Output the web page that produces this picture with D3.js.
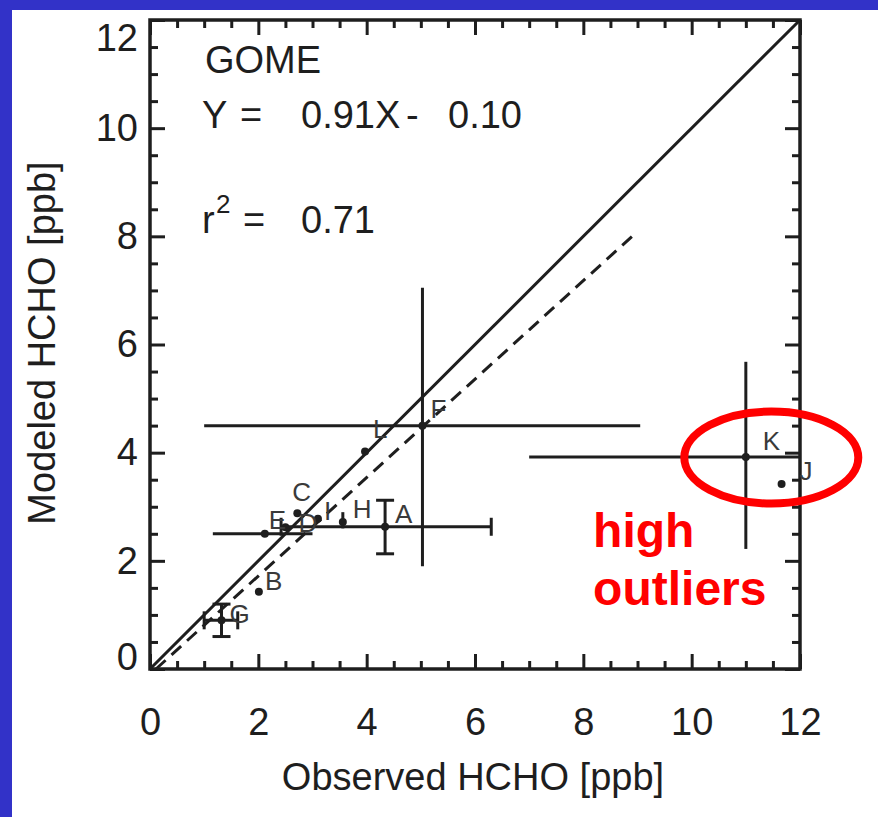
<!DOCTYPE html>
<html>
<head>
<meta charset="utf-8">
<script src="https://cdn.jsdelivr.net/npm/d3@7"></script>
<style>
  html, body { margin: 0; padding: 0; background: #3232c8; overflow: hidden; }
  svg { display: block; }
  text { font-family: "Liberation Sans", Arial, Helvetica, sans-serif; }
</style>
</head>
<body>
<div id="wrapper"></div>
<script>
// site labels and values (ppb)
const sites    = ["A", "B", "C", "D", "E", "F", "G", "H", "I", "J", "K", "L"];
const observed = [4.34, 2.01, 2.72, 2.50, 2.12, 5.03, 1.32, 3.56, 3.10, 11.66, 11.00, 3.97];
const modeled  = [2.63, 1.43, 2.88, 2.62, 2.50, 4.50, 0.90, 2.72, 2.78, 3.42, 3.92, 4.02];

// error bar ranges (null = none drawn)
const obsLow  = [2.42, null, null, null, 1.16, 1.00, 1.00, null, null, null, 7.00, null];
const obsHigh = [6.30, null, null, null, 3.00, 9.05, 1.62, null, null, null, 12.0, null];
const modLow  = [2.13, null, null, null, null, 1.90, 0.60, 2.60, null, null, 2.22, null];
const modHigh = [3.12, null, null, null, null, 7.05, 1.20, 2.90, null, null, 5.68, null];

const majorTicks = [0, 2, 4, 6, 8, 10, 12];
const minorTicks = d3.range(0.5, 12, 0.5).filter(v => v % 2 !== 0);

// regression line Y = 0.91X - 0.10, drawn over observed 0.11 .. 9
const fitSlope = 0.91, fitIntercept = -0.10;
const fitRange = [0.11, 9.0];

// label nudges in pixels (style only)
const nudge = {A: [10, -4], B: [6, -2], C: [-5, -12], D: [13, 5], E: [4, -5], F: [8, -8],
               G: [8, 3], H: [10, -4], I: [6, 1], J: [18, -4], K: [17, -7], L: [8, -14]};
const capped = new Set(["A", "G"]);

const W = 878, H = 817;
const ink = "#1e1e1e";

const svg = d3.select("#wrapper").append("svg")
  .attr("width", W).attr("height", H);

svg.append("rect").attr("width", W).attr("height", H).attr("fill", "#3232c8");
svg.append("rect").attr("x", 12).attr("y", 10).attr("width", W - 12).attr("height", H - 10).attr("fill", "#fff");

const x = d3.scaleLinear().domain([0, 12]).range([150, 800]);
const y = d3.scaleLinear().domain([0, 12]).range([669, 20]);

const x0 = x.range()[0], x1 = x.range()[1], y0 = y.range()[0], y1 = y.range()[1];

function styleAxis(g) {
  g.select(".domain").remove();
  g.selectAll("line").attr("stroke", ink).attr("stroke-width", 3);
  g.attr("font-size", 38).attr("font-family", '"Liberation Sans", Arial, sans-serif');
  g.selectAll("text").attr("fill", ink);
}

// major + minor ticks, all four sides, pointing inward
svg.append("g").attr("transform", `translate(0,${y0})`)
  .call(d3.axisBottom(x).tickValues(majorTicks).tickSizeInner(-15).tickSizeOuter(0).tickPadding(39).tickFormat(d3.format("d")))
  .call(styleAxis);
svg.append("g").attr("transform", `translate(0,${y0})`)
  .call(d3.axisBottom(x).tickValues(minorTicks).tickSizeInner(-8).tickSizeOuter(0).tickFormat(""))
  .call(styleAxis);
svg.append("g").attr("transform", `translate(0,${y1})`)
  .call(d3.axisTop(x).tickValues(majorTicks).tickSizeInner(-15).tickSizeOuter(0).tickFormat(""))
  .call(styleAxis);
svg.append("g").attr("transform", `translate(0,${y1})`)
  .call(d3.axisTop(x).tickValues(minorTicks).tickSizeInner(-8).tickSizeOuter(0).tickFormat(""))
  .call(styleAxis);

svg.append("g").attr("transform", `translate(${x0},0)`)
  .call(d3.axisLeft(y).tickValues(majorTicks).tickSizeInner(-15).tickSizeOuter(0).tickPadding(12).tickFormat(d3.format("d")))
  .call(styleAxis)
  .selectAll(".tick text")
  .attr("dy", d => d === 12 ? "0.79em" : d === 0 ? "0em" : "0.32em");
svg.append("g").attr("transform", `translate(${x0},0)`)
  .call(d3.axisLeft(y).tickValues(minorTicks).tickSizeInner(-8).tickSizeOuter(0).tickFormat(""))
  .call(styleAxis);
svg.append("g").attr("transform", `translate(${x1},0)`)
  .call(d3.axisRight(y).tickValues(majorTicks).tickSizeInner(-15).tickSizeOuter(0).tickFormat(""))
  .call(styleAxis);
svg.append("g").attr("transform", `translate(${x1},0)`)
  .call(d3.axisRight(y).tickValues(minorTicks).tickSizeInner(-8).tickSizeOuter(0).tickFormat(""))
  .call(styleAxis);

// frame
svg.append("rect")
  .attr("x", x0).attr("y", y1).attr("width", x1 - x0).attr("height", y0 - y1)
  .attr("fill", "none").attr("stroke", ink).attr("stroke-width", 3.5);

// 1:1 line and fit
svg.append("line")
  .attr("x1", x(0)).attr("y1", y(0)).attr("x2", x(12)).attr("y2", y(12))
  .attr("stroke", ink).attr("stroke-width", 3);
svg.append("line")
  .attr("x1", x(fitRange[0])).attr("y1", y(fitSlope * fitRange[0] + fitIntercept))
  .attr("x2", x(fitRange[1])).attr("y2", y(fitSlope * fitRange[1] + fitIntercept))
  .attr("stroke", ink).attr("stroke-width", 3).attr("stroke-dasharray", "13,8");

// error bars
const pts = sites.map((s, i) => ({site: s, ox: observed[i], my: modeled[i],
  xl: obsLow[i], xh: obsHigh[i], yl: modLow[i], yh: modHigh[i]}));

const eb = svg.append("g").attr("stroke", ink).attr("stroke-width", 3);
pts.forEach(d => {
  if (d.xl !== null) {
    eb.append("line").attr("x1", x(d.xl)).attr("x2", x(d.xh)).attr("y1", y(d.my)).attr("y2", y(d.my));
    if (capped.has(d.site)) {
      [d.xl, d.xh].forEach(v => eb.append("line")
        .attr("x1", x(v)).attr("x2", x(v)).attr("y1", y(d.my) - 9).attr("y2", y(d.my) + 9));
    }
  }
  if (d.yl !== null) {
    eb.append("line").attr("x1", x(d.ox)).attr("x2", x(d.ox)).attr("y1", y(d.yl)).attr("y2", y(d.yh));
    if (capped.has(d.site)) {
      [d.yl, d.yh].forEach(v => eb.append("line")
        .attr("x1", x(d.ox) - 9).attr("x2", x(d.ox) + 9).attr("y1", y(v)).attr("y2", y(v)));
    }
  }
});

// points and site letters
svg.append("g").selectAll("circle")
  .data(pts).enter().append("circle")
  .attr("cx", d => x(d.ox)).attr("cy", d => y(d.my)).attr("r", 4)
  .attr("fill", ink);

svg.append("g").selectAll("text")
  .data(pts).enter().append("text")
  .attr("x", d => x(d.ox) + nudge[d.site][0])
  .attr("y", d => y(d.my) + nudge[d.site][1])
  .attr("font-size", 26).attr("fill", "#3a3a3a")
  .text(d => d.site);

// statistics text
const stats = svg.append("g").attr("font-size", 38).attr("fill", ink);
stats.append("text").attr("x", 205).attr("y", 73).text("GOME");
stats.append("text").attr("x", 202).attr("y", 128).text("Y");
stats.append("text").attr("x", 240).attr("y", 128).text("=");
stats.append("text").attr("x", 301).attr("y", 128).text("0.91X");
stats.append("text").attr("x", 406).attr("y", 128).text("-");
stats.append("text").attr("x", 448).attr("y", 128).text("0.10");
stats.append("text").attr("x", 202).attr("y", 233).text("r");
stats.append("text").attr("x", 216).attr("y", 213).attr("font-size", 26).text("2");
stats.append("text").attr("x", 243).attr("y", 233).text("=");
stats.append("text").attr("x", 301).attr("y", 233).text("0.71");

// axis titles
svg.append("text")
  .attr("x", (x0 + x1) / 2 - 2).attr("y", 790)
  .attr("text-anchor", "middle").attr("font-size", 38).attr("fill", ink)
  .text("Observed HCHO [ppb]");
svg.append("text")
  .attr("transform", "translate(55,343) rotate(-90)")
  .attr("text-anchor", "middle").attr("font-size", 38).attr("fill", ink)
  .text("Modeled HCHO [ppb]");

// outlier annotation
svg.append("ellipse")
  .attr("cx", x(11.47)).attr("cy", y(3.91)).attr("rx", 87).attr("ry", 46)
  .attr("fill", "none").attr("stroke", "#f00").attr("stroke-width", 8);

const note = svg.append("text")
  .attr("x", x(8.18)).attr("y", y(2.26))
  .attr("font-size", 48).attr("font-weight", "bold").attr("fill", "#f00");
note.append("tspan").text("high");
note.append("tspan").attr("x", x(8.18)).attr("dy", 58).text("outliers");
</script>
</body>
</html>
